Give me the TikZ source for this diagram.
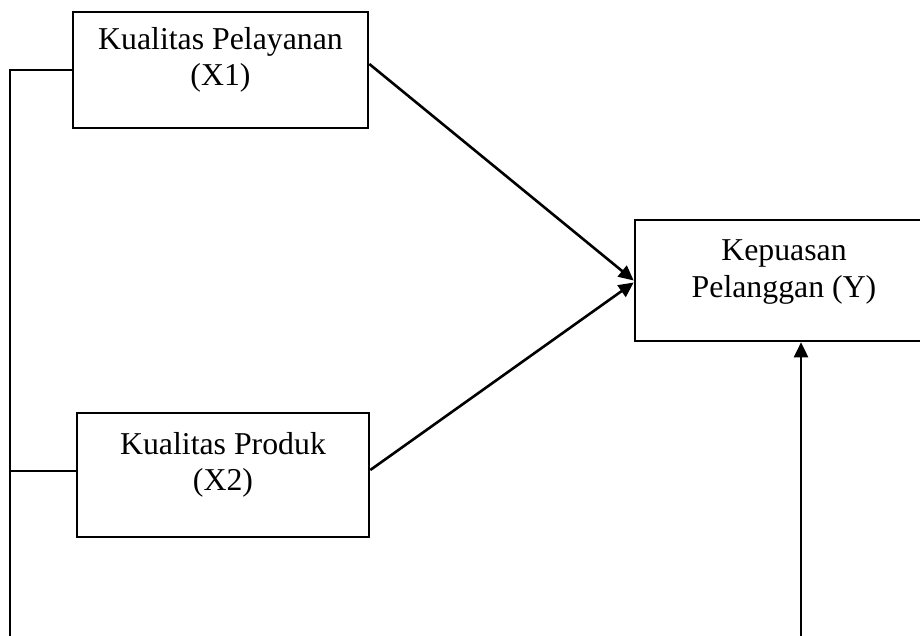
\documentclass[tikz,border=0pt]{standalone}
\usepackage{fontspec}
\setmainfont{Liberation Serif}
\usepackage{tikz}
\usetikzlibrary{arrows.meta,positioning}

\begin{document}
\begin{tikzpicture}[x=0.5pt,y=-0.5pt,line width=1.3pt,
    varbox/.style={draw,rectangle,inner sep=0pt},
    vartext/.style={align=center,anchor=base,inner sep=0pt,
      font=\fontsize{15.9}{18}\selectfont},
    link/.style={-{Triangle[length=7.5pt,width=7pt]}}]
  \clip (0,0) rectangle (920,636);

  % Boxes
  \node[varbox,minimum width=147.5pt,minimum height=58pt] (x1) at (220.5,70) {};
  \node[varbox,minimum width=146pt,minimum height=62pt] (x2) at (223,475) {};
  \node[varbox,minimum width=149pt,minimum height=60.5pt] (y) at (784,280.5) {};

  % Labels (base = last line)
  \node[vartext] (x1t) at (220.5,86) {Kualitas Pelayanan\\(X1)};
  \node[vartext] (x2t) at (223,490) {Kualitas Produk\\(X2)};
  \node[vartext] (yt) at (784,297) {Kepuasan\\Pelanggan (Y)};

  % Left line
  \coordinate (bus) at (10,636);
  \draw (x1.west) -| (bus);
  \draw ([yshift=2pt]x2.west) -- ([yshift=2pt]x2.west -| bus);

  % Arrows into Y
  \draw[link] ([yshift=3pt]x1.east) -- (y.west);
  \draw[link] ([yshift=2.5pt]x2.east) -- ([yshift=-1pt]y.west);
  \coordinate (ybot) at (801,636);
  \draw[link] (ybot) -- (ybot |- y.south);
\end{tikzpicture}
\end{document}
